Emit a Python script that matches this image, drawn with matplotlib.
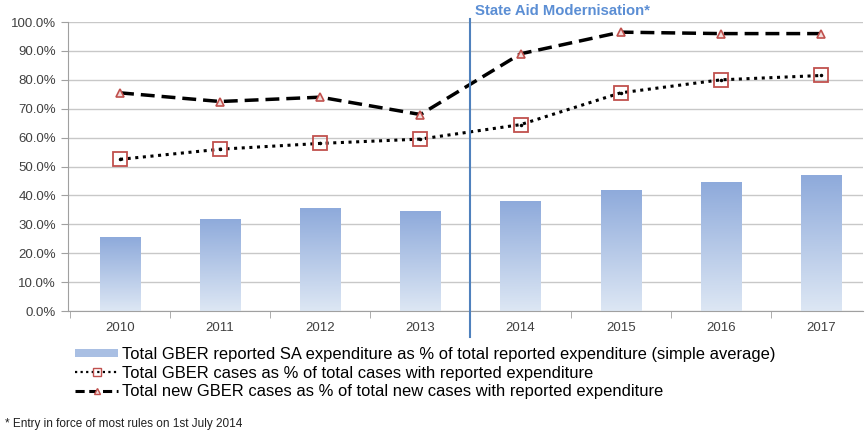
import numpy as np
import matplotlib
matplotlib.use("Agg")
import matplotlib.pyplot as plt
from matplotlib.lines import Line2D
from matplotlib.patches import Patch

plt.rcParams['font.family'] = ['Liberation Sans', 'DejaVu Sans']

years = ['2010', '2011', '2012', '2013', '2014', '2015', '2016', '2017']
sa_expenditure = [25.5, 32.0, 35.5, 34.5, 38.0, 42.0, 44.5, 47.0]
gber_cases = [52.5, 56.0, 58.0, 59.5, 64.5, 75.5, 80.0, 81.5]
new_gber_cases = [75.5, 72.5, 74.0, 68.0, 89.0, 96.5, 96.0, 96.0]

fig = plt.figure(figsize=(8.65, 4.32), dpi=100)
ax = fig.add_axes([0.0786, 0.28, 0.919, 0.669])

x = np.arange(len(years))
bars = ax.bar(x, sa_expenditure, width=0.4, color='none', zorder=2)

# vertical gradient fill for the bars
grad = np.linspace(0, 1, 256).reshape(-1, 1)
cmap = matplotlib.colors.LinearSegmentedColormap.from_list('g', ['#dde7f4', '#8eaadb'])
for b in bars:
    x0, w, h = b.get_x(), b.get_width(), b.get_height()
    im = ax.imshow(grad, extent=[x0, x0 + w, 0, h], origin='lower', cmap=cmap,
                   aspect='auto', zorder=2)
    im.set_clip_path(b)

ax.plot(x, gber_cases, linestyle=(0, (1, 1.5)), color='black', lw=2.2,
        marker='s', markersize=10, markerfacecolor='none',
        markeredgecolor='#c0504d', markeredgewidth=1.3, zorder=3)
ax.plot(x, gber_cases, linestyle='none', marker='.', markersize=3, color='black', zorder=4)

ax.plot(x, new_gber_cases, linestyle=(0, (4, 2)), color='black', lw=2.5,
        marker='^', markersize=6, markerfacecolor='#f2dcdb',
        markeredgecolor='#c0504d', markeredgewidth=1.2, zorder=3)

ax.axvline(3.5, ymin=-0.09, ymax=1.01, color='#4f81bd', lw=1.5, clip_on=False, zorder=5)
ax.text(3.55, 101.5, 'State Aid Modernisation*', color='#5b8ed4', fontsize=10.7,
        fontweight='bold', va='bottom', ha='left')

ax.set_xlim(-0.52, 7.42)
ax.set_ylim(0, 100)
ax.set_yticks(np.arange(0, 101, 10))
ax.set_yticklabels(['%.1f%%' % v for v in np.arange(0, 101, 10)])
ax.set_xticks(x)
ax.set_xticklabels(years)
ax.set_xticks(np.arange(-0.5, 7.5, 1), minor=True)
ax.tick_params(labelsize=9.5, colors='#404040', length=5, color='#a0a0a0')
ax.tick_params(axis='x', which='major', length=0, pad=8)
ax.tick_params(axis='x', which='minor', length=5, color='#a0a0a0')
ax.grid(axis='y', color='#c8c8c8', lw=1)
ax.set_axisbelow(True)
for s in ['top', 'right']:
    ax.spines[s].set_visible(False)
ax.spines['left'].set_color('#a0a0a0')
ax.spines['bottom'].set_color('#a0a0a0')

handles = [
    Patch(facecolor='#a9bfe3', edgecolor='none'),
    Line2D([], [], linestyle=(0, (1, 1.5)), color='black', lw=1.6, marker='s',
           markersize=6, markerfacecolor='none', markeredgecolor='#c0504d'),
    Line2D([], [], linestyle=(0, (3, 1.5)), color='black', lw=2.2, marker='^',
           markersize=4, markerfacecolor='#f2dcdb', markeredgecolor='#c0504d'),
]
labels = [
    'Total GBER reported SA expenditure as % of total reported expenditure (simple average)',
    'Total GBER cases as % of total cases with reported expenditure',
    'Total new GBER cases as % of total new cases with reported expenditure',
]
fig.legend(handles, labels, loc='upper left', bbox_to_anchor=(0.087, 0.197),
           frameon=False, fontsize=11.9, handlelength=2.6, handleheight=0.4,
           labelspacing=0.22, handletextpad=0.25, borderpad=0, borderaxespad=0)

fig.text(0.006, 0.012, '* Entry in force of most rules on 1st July 2014', fontsize=8.5,
         color='#202020')

fig.savefig('out.png', dpi=100)
